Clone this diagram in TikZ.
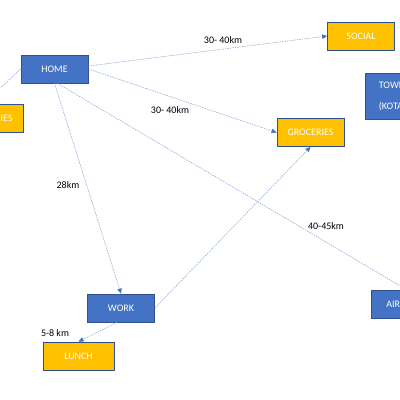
\documentclass[tikz,border=0pt]{standalone}
\usepackage{fontspec}
\setmainfont{Carlito}
\usepackage{tikz}
\usetikzlibrary{arrows.meta}
\definecolor{placeblue}{RGB}{68, 114, 196}
\definecolor{edgeblue}{RGB}{47, 82, 143}
\definecolor{stopyellow}{RGB}{255, 192, 0}
\definecolor{tripblue}{RGB}{143, 170, 220}

\begin{document}
\begin{tikzpicture}[x=1pt,y=-1pt,
  every node/.style={font=\fontsize{10}{12}\selectfont},
  place/.style={draw=edgeblue, fill=placeblue, text=white, line width=0.8pt,
    minimum width=67, minimum height=28, inner sep=0pt},
  errand/.style={place, fill=stopyellow},
  trip/.style={draw=tripblue, line width=0.6pt, dash pattern=on 1.5pt off 1pt,
    -{Triangle[length=5pt,width=4.5pt,color=placeblue]}},
  km/.style={text=black}]
\useasboundingbox (0,0) rectangle (400,400);
\clip (0,0) rectangle (400,400);
% Places
\node[place] (home) at (54.5,69) {HOME};
\node[place] (work) at (121,308) {WORK};
\node[place, anchor=west, minimum height=46, text width=40, align=left,
  inner xsep=12, font=\fontsize{10}{21}\selectfont] (town) at (365,96) {TOWN\\(KOTA};
\node[place, anchor=west, text width=40, align=left, inner xsep=15] (airport) at (371,304) {AIR};
% Errands
\node[errand] (social) at (361,36) {SOCIAL};
\node[errand] (groceries) at (310.5,132.5) {GROCERIES};
\node[errand, minimum width=71] (lunch) at (78.5,356) {LUNCH};
\node[errand, anchor=east, text width=58, align=right, inner xsep=11] (chores) at (24,118) {IES};
% Trips
\draw[trip] ([yshift=3pt]home.east) -- (social.west);
\draw[trip] (home.east) -- (groceries.west);
\draw[trip] (home.south) -- (work.north);
\draw[trip] ([xshift=3pt]home.south) -- (airport.north);
\draw[trip] (home.west) -- (chores.north);
\draw[trip] (work.east) -- (groceries.south);
\draw[trip] ([xshift=-4pt]work.south) -- (lunch.north);
% Distances
\node[km] (kmsocial) at (223,40) {30- 40km};
\node[km] (kmgroceries) at (170,110) {30- 40km};
\node[km] (kmwork) at (68,185) {28km};
\node[km] (kmairport) at (326,226) {40-45km};
\node[km] (kmlunch) at (55,333) {5-8 km};
\end{tikzpicture}
\end{document}
